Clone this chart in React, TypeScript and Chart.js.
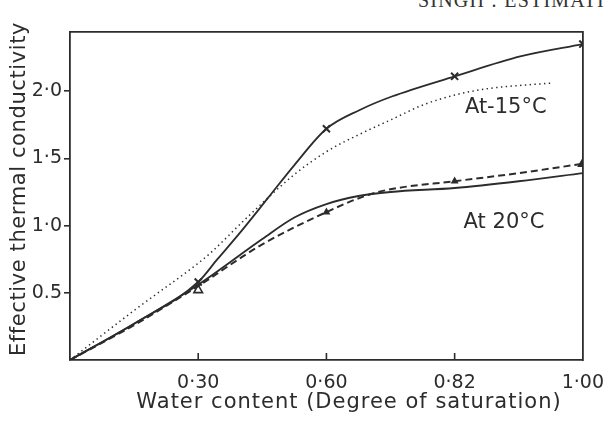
import React, { useEffect, useRef } from "react";
import { Chart, registerables } from "chart.js";

Chart.register(...registerables);

// x axis: equally spaced saturation marks 0, 0.30, 0.60, 0.82, 1.00 -> positions 0..4
const xTickValues = [1, 2, 3, 4];
const xTickLabels = ["0·30", "0·60", "0·82", "1·00"];
const xInnerTickValues = [1, 2, 3];
const yTickValues = [0.5, 1.0, 1.5, 2.0];
const yTickLabels = ["0.5", "1·0", "1·5", "2·0"];

const xTitle = "Water content (Degree of saturation)";
const yTitle = "Effective thermal conductivity";
const labelMinus15 = "At-15°C";
const label20 = "At 20°C";
const headerText = "SINGH : ESTIMATI";

// -15 °C measured curve (solid, x markers)
const frozenSolidX = [0, 0.5, 1, 1.15, 1.32, 1.54, 1.75, 2, 2.26, 2.51, 3, 3.52, 4];
const frozenSolidY = [0, 0.27, 0.58, 0.75, 0.94, 1.2, 1.45, 1.72, 1.86, 1.96, 2.11, 2.26, 2.35];
const frozenMarkX = [1, 2, 3, 4];
const frozenMarkY = [0.58, 1.72, 2.11, 2.35];

// -15 °C estimated curve (dotted)
const frozenDotX = [0, 0.53, 1, 1.1, 1.37, 1.75, 2, 2.26, 2.51, 2.76, 3.04, 3.27, 3.75];
const frozenDotY = [0, 0.39, 0.72, 0.8, 1.05, 1.38, 1.55, 1.68, 1.79, 1.9, 1.98, 2.02, 2.06];

// 20 °C estimated curve (solid)
const warmSolidX = [0, 0.5, 1, 1.5, 1.75, 2, 2.25, 2.5, 3, 3.5, 4];
const warmSolidY = [0, 0.27, 0.56, 0.9, 1.06, 1.16, 1.22, 1.25, 1.28, 1.33, 1.39];

// 20 °C measured curve (dashed, triangle markers)
const warmDashX = [0, 0.5, 1, 1.5, 2, 2.3, 2.5, 3, 3.5, 4];
const warmDashY = [0, 0.26, 0.55, 0.86, 1.1, 1.22, 1.27, 1.33, 1.39, 1.46];
const warmMarkX = [1, 2, 3, 4];
const warmMarkY = [0.52, 1.1, 1.33, 1.46];
const warmMarkFilled = [false, true, true, true];
const warmMarkSize = [5, 3, 3, 5];

const INK = "#2c2c2c";
const FONT = "'DejaVu Sans', sans-serif";

const pts = (xs: number[], ys: number[]) => xs.map((x, i) => ({ x, y: ys[i] }));

const decorPlugin = {
  id: "decor",
  afterDraw(chart: any) {
    const { ctx, chartArea, scales } = chart;
    const xs = scales.x;
    const ys = scales.y;
    ctx.save();
    // inward tick marks on the x axis
    ctx.strokeStyle = INK;
    ctx.lineWidth = 1.6;
    xInnerTickValues.forEach((v) => {
      const px = xs.getPixelForValue(v);
      ctx.beginPath();
      ctx.moveTo(px, chartArea.bottom);
      ctx.lineTo(px, chartArea.bottom - 7);
      ctx.stroke();
    });
    ctx.fillStyle = INK;
    // x title
    ctx.font = `21px ${FONT}`;
    (ctx as any).letterSpacing = "1px";
    ctx.textAlign = "center";
    ctx.textBaseline = "middle";
    ctx.fillText(xTitle, 349, 403);
    // y title
    ctx.save();
    ctx.translate(20, 189);
    ctx.rotate(-Math.PI / 2);
    (ctx as any).letterSpacing = "0.6px";
    ctx.fillText(yTitle, 0, 0);
    ctx.restore();
    // curve labels
    (ctx as any).letterSpacing = "0px";
    ctx.textAlign = "left";
    ctx.fillText(labelMinus15, xs.getPixelForValue(3.08), ys.getPixelForValue(1.88));
    ctx.fillText(label20, xs.getPixelForValue(3.07), ys.getPixelForValue(1.02));
    ctx.restore();
  },
};

export default function App() {
  const ref = useRef<HTMLCanvasElement | null>(null);

  useEffect(() => {
    if (!ref.current) return;
    const lineBase = {
      type: "line" as const,
      pointRadius: 0,
      borderColor: INK,
      backgroundColor: INK,
      fill: false,
      cubicInterpolationMode: "monotone" as const,
    };
    const chart = new Chart(ref.current, {
      type: "line",
      data: {
        datasets: [
          { ...lineBase, data: pts(frozenSolidX, frozenSolidY), borderWidth: 1.8 },
          { ...lineBase, data: pts(frozenDotX, frozenDotY), borderWidth: 1.5, borderDash: [1.4, 3.4] },
          { ...lineBase, data: pts(warmSolidX, warmSolidY), borderWidth: 1.9 },
          { ...lineBase, data: pts(warmDashX, warmDashY), borderWidth: 2, borderDash: [7, 4] },
          {
            type: "scatter" as const,
            data: pts(frozenMarkX, frozenMarkY),
            pointStyle: "crossRot",
            pointRadius: 5,
            borderColor: INK,
            borderWidth: 2,
            showLine: false,
          },
          {
            type: "scatter" as const,
            data: pts(warmMarkX, warmMarkY),
            pointStyle: "triangle",
            pointRadius: warmMarkSize,
            borderColor: INK,
            backgroundColor: warmMarkFilled.map((f) => (f ? INK : "#ffffff")),
            borderWidth: 1.6,
            showLine: false,
          },
        ],
      },
      options: {
        animation: false,
        responsive: false,
        maintainAspectRatio: false,
        layout: { padding: 0 },
        plugins: { legend: { display: false }, tooltip: { enabled: false }, title: { display: false } },
        scales: {
          x: {
            type: "linear",
            position: "bottom",
            min: 0,
            max: 4,
            afterBuildTicks: (s: any) => {
              s.ticks = xTickValues.map((v) => ({ value: v }));
            },
            afterFit: (s: any) => {
              s.height = 62;
            },
            ticks: {
              callback: (v: any) => xTickLabels[xTickValues.indexOf(Number(v))] ?? "",
              color: INK,
              font: { family: FONT, size: 19 },
              padding: 12,
              maxRotation: 0,
              autoSkip: false,
            },
            grid: { display: true, drawOnChartArea: false, drawTicks: false, color: INK },
            border: { display: true, color: INK, width: 1.8 },
          },
          y: {
            type: "linear",
            position: "left",
            min: 0,
            max: 2.44,
            afterBuildTicks: (s: any) => {
              s.ticks = yTickValues.map((v) => ({ value: v }));
            },
            afterFit: (s: any) => {
              s.width = 70;
            },
            ticks: {
              callback: (v: any) => yTickLabels[yTickValues.indexOf(Number(v))] ?? "",
              color: INK,
              font: { family: FONT, size: 19 },
              padding: 2,
            },
            grid: { display: true, drawOnChartArea: false, drawTicks: true, tickLength: 6, color: INK, lineWidth: 1.6 },
            border: { display: true, color: INK, width: 1.8 },
          },
          x2: {
            type: "linear",
            axis: "x",
            position: "top",
            min: 0,
            max: 4,
            afterFit: (s: any) => {
              s.height = 32;
            },
            ticks: { display: false },
            grid: { display: false, drawTicks: false },
            border: { display: true, color: INK, width: 1.8 },
          },
          y2: {
            type: "linear",
            axis: "y",
            position: "right",
            min: 0,
            max: 2.44,
            afterFit: (s: any) => {
              s.width = 19;
            },
            ticks: { display: false },
            grid: { display: false, drawTicks: false },
            border: { display: true, color: INK, width: 1.8 },
          },
        },
      } as any,
      plugins: [decorPlugin],
    });
    return () => chart.destroy();
  }, []);

  return (
    <div style={{ position: "fixed", left: 0, top: 0, width: 616, height: 422, background: "#ffffff", overflow: "hidden" }}>
      <div
        style={{
          position: "absolute",
          left: 418,
          top: -11,
          fontFamily: "'Liberation Serif', serif",
          fontSize: 20,
          letterSpacing: 1.2,
          color: "#333",
          whiteSpace: "nowrap",
          lineHeight: "22px",
        }}
      >
        {headerText}
      </div>
      <canvas ref={ref} width={616} height={422} style={{ position: "absolute", left: 0, top: 0 }} />
    </div>
  );
}
